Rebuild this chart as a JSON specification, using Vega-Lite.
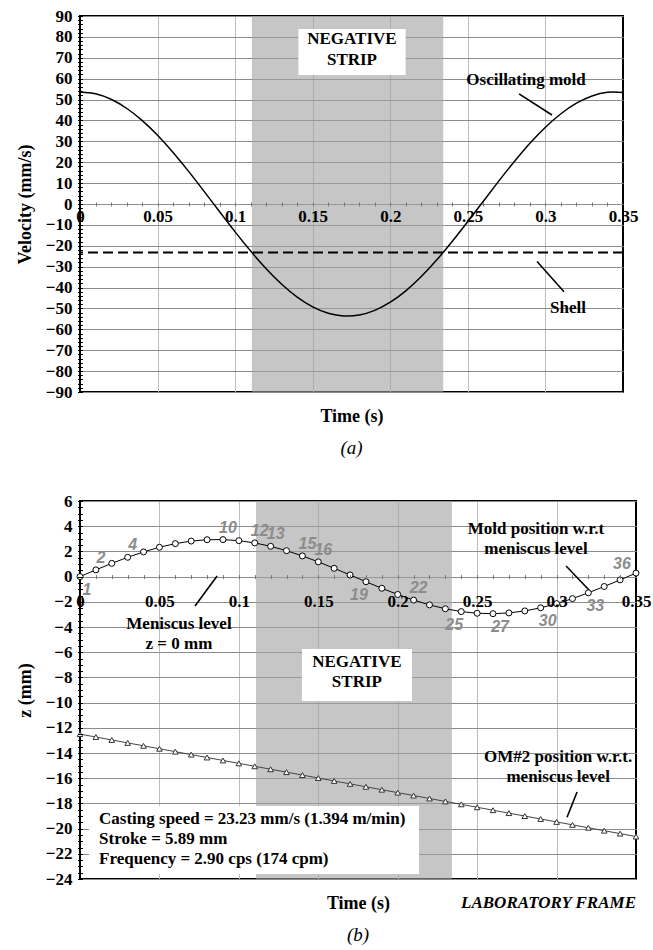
{
  "$schema": "https://vega.github.io/schema/vega-lite/v6.json",
  "padding": {"left": 15, "top": 6, "right": 0, "bottom": 0},
  "spacing": 32,
  "config": {
    "view": {"stroke": "black", "strokeWidth": 2},
    "font": "Liberation Serif",
    "axis": {
      "labelFont": "Liberation Serif", "labelFontWeight": "bold", "labelFontSize": 17, "labelColor": "black",
      "titleFont": "Liberation Serif", "titleFontWeight": "bold", "titleFontSize": 18, "titleColor": "black",
      "labelOverlap": false, "labelFlush": false
    },
    "text": {"font": "Liberation Serif", "fontWeight": "bold", "fontSize": 17, "color": "black"},
    "title": {"font": "Liberation Serif", "fontStyle": "italic", "fontWeight": "normal", "fontSize": 19, "color": "black", "orient": "bottom", "offset": 14}
  },
  "datasets": {
    "vel": [
      {"t": 0, "v": 53.66}, {"t": 0.01, "v": 52.77}, {"t": 0.02, "v": 50.14}, {"t": 0.03, "v": 45.84},
      {"t": 0.04, "v": 40.03}, {"t": 0.05, "v": 32.89}, {"t": 0.06, "v": 24.66}, {"t": 0.07, "v": 15.62},
      {"t": 0.08, "v": 6.06}, {"t": 0.09, "v": -3.71}, {"t": 0.1, "v": -13.34}, {"t": 0.11, "v": -22.54},
      {"t": 0.12, "v": -30.99}, {"t": 0.13, "v": -38.42}, {"t": 0.14, "v": -44.57}, {"t": 0.15, "v": -49.25},
      {"t": 0.16, "v": -52.29}, {"t": 0.17, "v": -53.61}, {"t": 0.18, "v": -53.15}, {"t": 0.19, "v": -50.93},
      {"t": 0.2, "v": -47.02}, {"t": 0.21, "v": -41.56}, {"t": 0.22, "v": -34.72}, {"t": 0.23, "v": -26.73},
      {"t": 0.24, "v": -17.86}, {"t": 0.25, "v": -8.39}, {"t": 0.26, "v": 1.35}, {"t": 0.27, "v": 11.05},
      {"t": 0.28, "v": 20.38}, {"t": 0.29, "v": 29.04}, {"t": 0.3, "v": 36.73}, {"t": 0.31, "v": 43.21},
      {"t": 0.32, "v": 48.26}, {"t": 0.33, "v": 51.71}, {"t": 0.34, "v": 53.45}, {"t": 0.35, "v": 53.42}
    ],
    "pos": [
      {"n": 1, "t": 0, "z": 0, "lab": "1", "side": "below"},
      {"n": 2, "t": 0.01, "z": 0.534, "lab": "2", "side": "above"},
      {"n": 3, "t": 0.02, "z": 1.05, "lab": "", "side": "none"},
      {"n": 4, "t": 0.03, "z": 1.531, "lab": "4", "side": "above"},
      {"n": 5, "t": 0.04, "z": 1.961, "lab": "", "side": "none"},
      {"n": 6, "t": 0.05, "z": 2.327, "lab": "", "side": "none"},
      {"n": 7, "t": 0.06, "z": 2.616, "lab": "", "side": "none"},
      {"n": 8, "t": 0.07, "z": 2.818, "lab": "", "side": "none"},
      {"n": 9, "t": 0.08, "z": 2.926, "lab": "", "side": "none"},
      {"n": 10, "t": 0.09, "z": 2.938, "lab": "10", "side": "above"},
      {"n": 11, "t": 0.1, "z": 2.852, "lab": "", "side": "none"},
      {"n": 12, "t": 0.11, "z": 2.673, "lab": "12", "side": "above"},
      {"n": 13, "t": 0.12, "z": 2.404, "lab": "13", "side": "above"},
      {"n": 14, "t": 0.13, "z": 2.056, "lab": "", "side": "none"},
      {"n": 15, "t": 0.14, "z": 1.64, "lab": "15", "side": "above"},
      {"n": 16, "t": 0.15, "z": 1.17, "lab": "16", "side": "above"},
      {"n": 17, "t": 0.16, "z": 0.66, "lab": "", "side": "none"},
      {"n": 18, "t": 0.17, "z": 0.13, "lab": "", "side": "none"},
      {"n": 19, "t": 0.18, "z": -0.406, "lab": "19", "side": "belowleft"},
      {"n": 20, "t": 0.19, "z": -0.928, "lab": "", "side": "none"},
      {"n": 21, "t": 0.2, "z": -1.419, "lab": "", "side": "none"},
      {"n": 22, "t": 0.21, "z": -1.863, "lab": "22", "side": "above"},
      {"n": 23, "t": 0.22, "z": -2.245, "lab": "", "side": "none"},
      {"n": 24, "t": 0.23, "z": -2.554, "lab": "", "side": "none"},
      {"n": 25, "t": 0.24, "z": -2.777, "lab": "25", "side": "belowleft"},
      {"n": 26, "t": 0.25, "z": -2.909, "lab": "", "side": "none"},
      {"n": 27, "t": 0.26, "z": -2.944, "lab": "27", "side": "below"},
      {"n": 28, "t": 0.27, "z": -2.882, "lab": "", "side": "none"},
      {"n": 29, "t": 0.28, "z": -2.724, "lab": "", "side": "none"},
      {"n": 30, "t": 0.29, "z": -2.477, "lab": "30", "side": "below"},
      {"n": 31, "t": 0.3, "z": -2.147, "lab": "", "side": "none"},
      {"n": 32, "t": 0.31, "z": -1.746, "lab": "", "side": "none"},
      {"n": 33, "t": 0.32, "z": -1.287, "lab": "33", "side": "below"},
      {"n": 34, "t": 0.33, "z": -0.786, "lab": "", "side": "none"},
      {"n": 35, "t": 0.34, "z": -0.259, "lab": "", "side": "none"},
      {"n": 36, "t": 0.35, "z": 0.277, "lab": "36", "side": "aboveleft"}
    ],
    "om": [
      {"t": 0, "z": -12.5}, {"t": 0.01, "z": -12.732}, {"t": 0.02, "z": -12.965}, {"t": 0.03, "z": -13.197},
      {"t": 0.04, "z": -13.429}, {"t": 0.05, "z": -13.662}, {"t": 0.06, "z": -13.894}, {"t": 0.07, "z": -14.126},
      {"t": 0.08, "z": -14.358}, {"t": 0.09, "z": -14.591}, {"t": 0.1, "z": -14.823}, {"t": 0.11, "z": -15.055},
      {"t": 0.12, "z": -15.288}, {"t": 0.13, "z": -15.52}, {"t": 0.14, "z": -15.752}, {"t": 0.15, "z": -15.985},
      {"t": 0.16, "z": -16.217}, {"t": 0.17, "z": -16.449}, {"t": 0.18, "z": -16.681}, {"t": 0.19, "z": -16.914},
      {"t": 0.2, "z": -17.146}, {"t": 0.21, "z": -17.378}, {"t": 0.22, "z": -17.611}, {"t": 0.23, "z": -17.843},
      {"t": 0.24, "z": -18.075}, {"t": 0.25, "z": -18.308}, {"t": 0.26, "z": -18.54}, {"t": 0.27, "z": -18.772},
      {"t": 0.28, "z": -19.004}, {"t": 0.29, "z": -19.237}, {"t": 0.3, "z": -19.469}, {"t": 0.31, "z": -19.701},
      {"t": 0.32, "z": -19.934}, {"t": 0.33, "z": -20.166}, {"t": 0.34, "z": -20.398}, {"t": 0.35, "z": -20.631}
    ]
  },
  "vconcat": [
    {
      "width": 543,
      "height": 376,
      "title": "(a)",
      "resolve": {"axis": {"x": "independent", "y": "independent"}},
      "layer": [
        {
          "data": {"values": [{"start": 0.1108, "end": 0.2341}]},
          "mark": {"type": "rect", "color": "#a0a0a0", "opacity": 0.6},
          "encoding": {
            "x": {"field": "start", "type": "quantitative", "scale": {"domain": [0, 0.35], "nice": false},
              "axis": {"orient": "bottom", "values": [0.05, 0.1, 0.15, 0.2, 0.25, 0.3], "grid": true, "gridColor": "#bdbdbd", "labels": false, "ticks": false, "domain": false, "title": null, "zindex": 0}},
            "x2": {"field": "end"}
          }
        },
        {
          "data": {"values": [{"shell": -23.23}]},
          "mark": {"type": "rule", "color": "black", "strokeWidth": 1.8, "strokeDash": [10, 5]},
          "encoding": {
            "y": {"field": "shell", "type": "quantitative", "scale": {"domain": [-90, 90], "nice": false},
              "axis": {"orient": "left", "values": [-90, -80, -70, -60, -50, -40, -30, -20, -10, 0, 10, 20, 30, 40, 50, 60, 70, 80, 90], "grid": true, "gridColor": "#8c8c8c", "labels": false, "ticks": false, "domain": false, "title": null, "zindex": 0}}
          }
        },
        {
          "data": {"values": [{"t0": 0.1408, "t1": 0.2099, "v0": 61.8, "v1": 83.8}]},
          "mark": {"type": "rect", "fill": "white"},
          "encoding": {
            "x": {"field": "t0", "type": "quantitative",
              "axis": {"orient": "bottom", "title": "Time (s)", "labels": false, "ticks": false, "domain": false, "grid": false, "titlePadding": 15, "zindex": 1}},
            "x2": {"field": "t1"},
            "y": {"field": "v0", "type": "quantitative",
              "axis": {"orient": "left", "offset": -2.5, "tickSize": 5, "tickColor": "black", "labels": false, "domain": false, "grid": false, "title": null, "zindex": 1,
                "values": [-90,-88,-86,-84,-82,-80,-78,-76,-74,-72,-70,-68,-66,-64,-62,-60,-58,-56,-54,-52,-50,-48,-46,-44,-42,-40,-38,-36,-34,-32,-30,-28,-26,-24,-22,-20,-18,-16,-14,-12,-10,-8,-6,-4,-2,0,2,4,6,8,10,12,14,16,18,20,22,24,26,28,30,32,34,36,38,40,42,44,46,48,50,52,54,56,58,60,62,64,66,68,70,72,74,76,78,80,82,84,86,88,90]}},
            "y2": {"field": "v1"}
          }
        },
        {
          "data": {"values": [
            {"t": 0.1753, "v": 79, "label": "NEGATIVE"},
            {"t": 0.1753, "v": 69, "label": "STRIP"},
            {"t": 0.2875, "v": 59.4, "label": "Oscillating mold"},
            {"t": 0.3145, "v": -50, "label": "Shell"}
          ]},
          "mark": {"type": "text"},
          "encoding": {
            "x": {"field": "t", "type": "quantitative", "axis": null},
            "y": {"field": "v", "type": "quantitative", "axis": null},
            "text": {"field": "label"}
          }
        },
        {
          "data": {"name": "vel"},
          "mark": {"type": "line", "color": "black", "strokeWidth": 1.5, "interpolate": "natural"},
          "encoding": {
            "x": {"field": "t", "type": "quantitative",
              "axis": {"orient": "bottom", "offset": -188, "values": [0, 0.05, 0.1, 0.15, 0.2, 0.25, 0.3, 0.35], "format": "~g", "grid": false, "domain": false, "ticks": false, "labelPadding": 4, "title": null, "zindex": 1}},
            "y": {"field": "v", "type": "quantitative",
              "axis": {"orient": "left", "values": [-90, -80, -70, -60, -50, -40, -30, -20, -10, 0, 10, 20, 30, 40, 50, 60, 70, 80, 90], "format": "d", "grid": false, "ticks": false, "domain": false, "labelPadding": 8, "title": "Velocity (mm/s)", "titlePadding": 11, "zindex": 1}}
          }
        },
        {
          "data": {"values": [
            {"t0": 0.283, "v0": 52.7, "t1": 0.3042, "v1": 42.6},
            {"t0": 0.2946, "v0": -27.5, "t1": 0.312, "v1": -42}
          ]},
          "mark": {"type": "rule", "color": "black", "strokeWidth": 1.6},
          "encoding": {
            "x": {"field": "t0", "type": "quantitative",
              "axis": {"orient": "bottom", "offset": -190, "tickSize": 4, "tickColor": "#777", "labels": false, "domain": false, "grid": false, "title": null, "zindex": 1,
                "values": [0.01,0.02,0.03,0.04,0.05,0.06,0.07,0.08,0.09,0.1,0.11,0.12,0.13,0.14,0.15,0.16,0.17,0.18,0.19,0.2,0.21,0.22,0.23,0.24,0.25,0.26,0.27,0.28,0.29,0.3,0.31,0.32,0.33,0.34]}},
            "y": {"field": "v0", "type": "quantitative", "axis": null},
            "x2": {"field": "t1"},
            "y2": {"field": "v1"}
          }
        }
      ]
    },
    {
      "width": 556,
      "height": 378,
      "title": "(b)",
      "resolve": {"axis": {"x": "independent", "y": "independent"}},
      "layer": [
        {
          "data": {"values": [{"start": 0.1108, "end": 0.2341}]},
          "mark": {"type": "rect", "color": "#a0a0a0", "opacity": 0.6},
          "encoding": {
            "x": {"field": "start", "type": "quantitative", "scale": {"domain": [0, 0.35], "nice": false},
              "axis": {"orient": "bottom", "values": [0.05, 0.1, 0.15, 0.2, 0.25, 0.3], "grid": true, "gridColor": "#bdbdbd", "labels": false, "ticks": false, "domain": false, "title": null, "zindex": 0}},
            "x2": {"field": "end"}
          }
        },
        {
          "data": {"name": "om"},
          "mark": {"type": "line", "color": "#444", "strokeWidth": 1},
          "encoding": {
            "x": {"field": "t", "type": "quantitative", "axis": null},
            "y": {"field": "z", "type": "quantitative", "scale": {"domain": [-24, 6], "nice": false},
              "axis": {"orient": "left", "values": [-24, -22, -20, -18, -16, -14, -12, -10, -8, -6, -4, -2, 0, 2, 4, 6], "grid": true, "gridColor": "#8c8c8c", "labels": false, "ticks": false, "domain": false, "title": null, "zindex": 0}}
          }
        },
        {
          "data": {"name": "om"},
          "mark": {"type": "point", "shape": "triangle-up", "filled": true, "fill": "white", "stroke": "#333", "strokeWidth": 1, "size": 32, "opacity": 1},
          "encoding": {
            "x": {"field": "t", "type": "quantitative", "axis": null},
            "y": {"field": "z", "type": "quantitative", "axis": null}
          }
        },
        {
          "data": {"values": [
            {"t0": 0.1397, "t1": 0.209, "z0": -5.75, "z1": -9.87},
            {"t0": 0.0057, "t1": 0.2134, "z0": -18.2, "z1": -23.6}
          ]},
          "mark": {"type": "rect", "fill": "white"},
          "encoding": {
            "x": {"field": "t0", "type": "quantitative",
              "axis": {"orient": "bottom", "title": "Time (s)", "labels": false, "ticks": false, "domain": false, "grid": false, "titlePadding": 15, "zindex": 1}},
            "x2": {"field": "t1"},
            "y": {"field": "z0", "type": "quantitative",
              "axis": {"orient": "left", "offset": -2.5, "tickSize": 5, "tickColor": "black", "labels": false, "domain": false, "grid": false, "title": null, "zindex": 1,
                "values": [-24,-23.5,-23,-22.5,-22,-21.5,-21,-20.5,-20,-19.5,-19,-18.5,-18,-17.5,-17,-16.5,-16,-15.5,-15,-14.5,-14,-13.5,-13,-12.5,-12,-11.5,-11,-10.5,-10,-9.5,-9,-8.5,-8,-7.5,-7,-6.5,-6,-5.5,-5,-4.5,-4,-3.5,-3,-2.5,-2,-1.5,-1,-0.5,0,0.5,1,1.5,2,2.5,3,3.5,4,4.5,5,5.5,6]}},
            "y2": {"field": "z1"}
          }
        },
        {
          "data": {"values": [
            {"t": 0.1743, "z": -6.8, "label": "NEGATIVE"},
            {"t": 0.1743, "z": -8.4, "label": "STRIP"},
            {"t": 0.0623, "z": -3.76, "label": "Meniscus level"},
            {"t": 0.0623, "z": -5.35, "label": "z = 0 mm"},
            {"t": 0.287, "z": 3.78, "label": "Mold position w.r.t"},
            {"t": 0.287, "z": 2.19, "label": "meniscus level"},
            {"t": 0.301, "z": -14.3, "label": "OM#2 position w.r.t."},
            {"t": 0.301, "z": -15.9, "label": "meniscus level"}
          ]},
          "mark": {"type": "text"},
          "encoding": {
            "x": {"field": "t", "type": "quantitative", "axis": null},
            "y": {"field": "z", "type": "quantitative", "axis": null},
            "text": {"field": "label"}
          }
        },
        {
          "data": {"values": [
            {"t": 0.012, "z": -19.24, "label": "Casting speed = 23.23 mm/s (1.394 m/min)"},
            {"t": 0.012, "z": -20.83, "label": "Stroke = 5.89 mm"},
            {"t": 0.012, "z": -22.41, "label": "Frequency = 2.90 cps (174 cpm)"}
          ]},
          "mark": {"type": "text", "align": "left"},
          "encoding": {
            "x": {"field": "t", "type": "quantitative", "axis": null},
            "y": {"field": "z", "type": "quantitative", "axis": null},
            "text": {"field": "label"}
          }
        },
        {
          "data": {"values": [{"t": 0.35, "z": -25.9, "label": "LABORATORY FRAME"}]},
          "mark": {"type": "text", "align": "right", "fontStyle": "italic", "fontSize": 17},
          "encoding": {
            "x": {"field": "t", "type": "quantitative", "axis": null},
            "y": {"field": "z", "type": "quantitative", "axis": null},
            "text": {"field": "label"}
          }
        },
        {
          "data": {"values": [
            {"t0": 0.0863, "z0": 0.05, "t1": 0.0724, "z1": -2.33},
            {"t0": 0.306, "z0": 0.84, "t1": 0.321, "z1": -1.14},
            {"t0": 0.3129, "z0": -17.1, "t1": 0.3066, "z1": -19.1}
          ]},
          "mark": {"type": "rule", "color": "black", "strokeWidth": 1.6},
          "encoding": {
            "x": {"field": "t0", "type": "quantitative",
              "axis": {"orient": "bottom", "offset": -304.4, "tickSize": 4, "tickColor": "#777", "labels": false, "domain": false, "grid": false, "title": null, "zindex": 1,
                "values": [0.01,0.02,0.03,0.04,0.05,0.06,0.07,0.08,0.09,0.1,0.11,0.12,0.13,0.14,0.15,0.16,0.17,0.18,0.19,0.2,0.21,0.22,0.23,0.24,0.25,0.26,0.27,0.28,0.29,0.3,0.31,0.32,0.33,0.34]}},
            "y": {"field": "z0", "type": "quantitative", "axis": null},
            "x2": {"field": "t1"},
            "y2": {"field": "z1"}
          }
        },
        {
          "data": {"name": "pos"},
          "mark": {"type": "line", "color": "black", "strokeWidth": 1},
          "encoding": {
            "x": {"field": "t", "type": "quantitative",
              "axis": {"orient": "bottom", "offset": -302.4, "values": [0, 0.05, 0.1, 0.15, 0.2, 0.25, 0.3, 0.35], "format": "~g", "grid": false, "domain": false, "ticks": false, "labelPadding": 17, "title": null, "zindex": 1}},
            "y": {"field": "z", "type": "quantitative",
              "axis": {"orient": "left", "values": [-24, -22, -20, -18, -16, -14, -12, -10, -8, -6, -4, -2, 0, 2, 4, 6], "format": "d", "grid": false, "ticks": false, "domain": false, "labelPadding": 8, "title": "z (mm)", "titlePadding": 11, "zindex": 1}}
          }
        },
        {
          "data": {"name": "pos"},
          "mark": {"type": "point", "shape": "circle", "filled": true, "fill": "white", "stroke": "black", "strokeWidth": 1, "size": 36, "opacity": 1},
          "encoding": {
            "x": {"field": "t", "type": "quantitative", "axis": null},
            "y": {"field": "z", "type": "quantitative", "axis": null}
          }
        },
        {
          "data": {"name": "pos"},
          "transform": [{"filter": "datum.side == 'above'"}],
          "mark": {"type": "text", "font": "Liberation Sans", "fontStyle": "italic", "fontWeight": "bold", "fontSize": 16, "color": "#8c8c8c", "dx": 5, "dy": -12},
          "encoding": {
            "x": {"field": "t", "type": "quantitative", "axis": null},
            "y": {"field": "z", "type": "quantitative", "axis": null},
            "text": {"field": "lab"}
          }
        },
        {
          "data": {"name": "pos"},
          "transform": [{"filter": "datum.side == 'below'"}],
          "mark": {"type": "text", "font": "Liberation Sans", "fontStyle": "italic", "fontWeight": "bold", "fontSize": 16, "color": "#8c8c8c", "dx": 7, "dy": 13},
          "encoding": {
            "x": {"field": "t", "type": "quantitative", "axis": null},
            "y": {"field": "z", "type": "quantitative", "axis": null},
            "text": {"field": "lab"}
          }
        },
        {
          "data": {"name": "pos"},
          "transform": [{"filter": "datum.side == 'belowleft'"}],
          "mark": {"type": "text", "font": "Liberation Sans", "fontStyle": "italic", "fontWeight": "bold", "fontSize": 16, "color": "#8c8c8c", "dx": -7, "dy": 13},
          "encoding": {
            "x": {"field": "t", "type": "quantitative", "axis": null},
            "y": {"field": "z", "type": "quantitative", "axis": null},
            "text": {"field": "lab"}
          }
        },
        {
          "data": {"name": "pos"},
          "transform": [{"filter": "datum.side == 'aboveleft'"}],
          "mark": {"type": "text", "font": "Liberation Sans", "fontStyle": "italic", "fontWeight": "bold", "fontSize": 16, "color": "#8c8c8c", "dx": -14, "dy": -9},
          "encoding": {
            "x": {"field": "t", "type": "quantitative", "axis": null},
            "y": {"field": "z", "type": "quantitative", "axis": null},
            "text": {"field": "lab"}
          }
        }
      ]
    }
  ]
}
